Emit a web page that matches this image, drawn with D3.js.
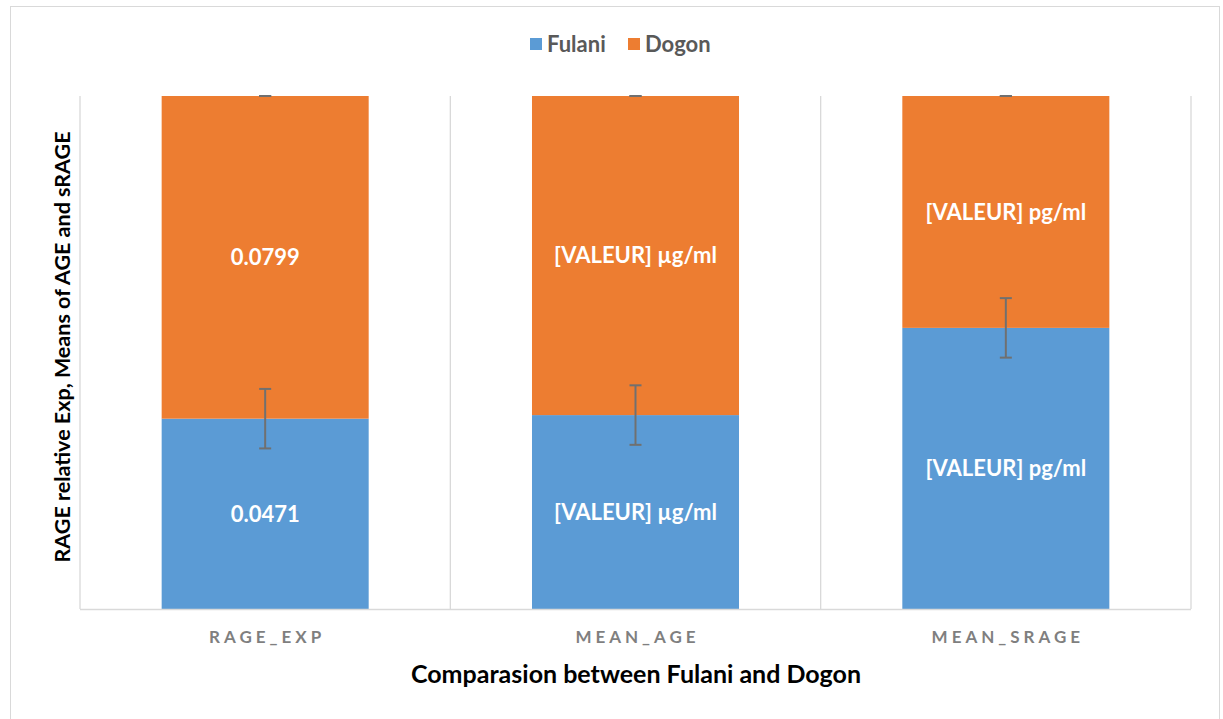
<!DOCTYPE html>
<meta charset="utf-8">
<style>
body { margin: 0; background: #fff; }
text { font-family: Lato, "Open Sans", sans-serif; }
</style>
<svg width="1223" height="719"></svg>
<script src="https://d3js.org/d3.v7.min.js"></script>
<script>

// categories and shares (percent of the stacked 100% bar)
var categories = ["RAGE_EXP", "MEAN_AGE", "MEAN_SRAGE"];
var fulaniPct = [37.1, 37.8, 54.8];
var dogonPct = [62.9, 62.2, 45.2];
var fulaniLabels = ["0.0471", "[VALEUR] \u00b5g/ml", "[VALEUR] pg/ml"];
var dogonLabels = ["0.0799", "[VALEUR] \u00b5g/ml", "[VALEUR] pg/ml"];
var fulaniErr = [5.8, 5.8, 5.8];
var dogonErr = [0, 0, 0];
var seriesNames = ["Fulani", "Dogon"];
var colors = ["#5B9BD5", "#ED7D31"];

var svg = d3.select("svg");

// chart frame
svg.append("rect")
    .attr("x", 10.5).attr("y", 6.5)
    .attr("width", 1209).attr("height", 730)
    .attr("fill", "none").attr("stroke", "#d9d9d9");

var plotLeft = 80, plotRight = 1191, plotTop = 96, plotBottom = 609;

var x = d3.scaleBand()
    .domain(categories)
    .range([plotLeft, plotRight])
    .paddingInner(0.441)
    .paddingOuter(0.2205);

var y = d3.scaleLinear().domain([0, 100]).range([plotBottom, plotTop]);

var step = x.step();

// vertical gridlines between categories
svg.append("g")
  .selectAll("line")
  .data(d3.range(categories.length + 1))
  .enter().append("line")
    .attr("x1", function(i) { return plotLeft + i * step; })
    .attr("x2", function(i) { return plotLeft + i * step; })
    .attr("y1", plotTop).attr("y2", plotBottom)
    .attr("stroke", "#d9d9d9").attr("stroke-width", 1.3);

var rows = categories.map(function(c, i) {
  return { cat: c, Fulani: fulaniPct[i], Dogon: dogonPct[i] };
});
var stack = d3.stack().keys(seriesNames)(rows);

var layers = svg.append("g")
  .selectAll("g")
  .data(stack)
  .enter().append("g")
    .attr("fill", function(d, k) { return colors[k]; });

layers.selectAll("rect")
  .data(function(d) { return d; })
  .enter().append("rect")
    .attr("x", function(d) { return x(d.data.cat); })
    .attr("width", x.bandwidth())
    .attr("y", function(d) { return y(d[1]); })
    .attr("height", function(d) { return y(d[0]) - y(d[1]); });

// x axis line
svg.append("line")
    .attr("x1", plotLeft).attr("x2", plotRight)
    .attr("y1", plotBottom + 0.5).attr("y2", plotBottom + 0.5)
    .attr("stroke", "#d9d9d9").attr("stroke-width", 1.5);

// data labels
stack.forEach(function(layer, k) {
  var labels = k === 0 ? fulaniLabels : dogonLabels;
  svg.append("g").selectAll("text")
    .data(layer)
    .enter().append("text")
      .attr("x", function(d) { return x(d.data.cat) + x.bandwidth() / 2; })
      .attr("y", function(d) { return (y(d[0]) + y(d[1])) / 2; })
      .attr("dy", "0.35em")
      .attr("text-anchor", "middle")
      .attr("fill", "#fff")
      .attr("font-size", "22px")
      .attr("font-weight", "bold")
      .text(function(d, i) { return labels[i]; });
});

// error bars
function errorBars(layer, errs) {
  var g = svg.append("g").attr("stroke", "#707070").attr("stroke-width", 2);
  layer.forEach(function(d, i) {
    var cx = x(d.data.cat) + x.bandwidth() / 2;
    var y0 = y(d[1] + errs[i]), y1 = y(d[1] - errs[i]);
    g.append("line").attr("x1", cx).attr("x2", cx).attr("y1", y0).attr("y2", y1);
    g.append("line").attr("x1", cx - 6).attr("x2", cx + 6).attr("y1", y0).attr("y2", y0);
    g.append("line").attr("x1", cx - 6).attr("x2", cx + 6).attr("y1", y1).attr("y2", y1);
  });
}
errorBars(stack[0], fulaniErr);
errorBars(stack[1], dogonErr);

// category tick labels
svg.append("g").selectAll("text")
  .data(categories)
  .enter().append("text")
    .attr("x", function(d) { return x(d) + x.bandwidth() / 2 + 2; })
    .attr("y", 637)
    .attr("dy", "0.35em")
    .attr("text-anchor", "middle")
    .attr("fill", "#7f7f7f")
    .attr("font-size", "17px")
    .attr("font-weight", "bold")
    .attr("letter-spacing", "4px")
    .text(function(d) { return d; });

// axis titles
svg.append("text")
    .attr("x", 636).attr("y", 674)
    .attr("dy", "0.35em")
    .attr("text-anchor", "middle")
    .attr("fill", "#000")
    .attr("font-size", "25px")
    .attr("font-weight", "bold")
    .text("Comparasion between Fulani and Dogon");

svg.append("text")
    .attr("transform", "translate(62,347) rotate(-90)")
    .attr("dy", "0.35em")
    .attr("text-anchor", "middle")
    .attr("fill", "#000")
    .attr("font-size", "21.5px")
    .attr("font-weight", "bold")
    .text("RAGE relative Exp, Means of AGE and sRAGE");

// legend
var legendX = [530, 628];
var legend = svg.append("g").selectAll("g")
  .data(seriesNames)
  .enter().append("g")
    .attr("transform", function(d, i) { return "translate(" + legendX[i] + ",38)"; });
legend.append("rect")
    .attr("width", 12).attr("height", 12)
    .attr("fill", function(d, i) { return colors[i]; });
legend.append("text")
    .attr("x", 17).attr("y", 6)
    .attr("dy", "0.35em")
    .attr("fill", "#595959")
    .attr("font-size", "22px")
    .attr("font-weight", "bold")
    .text(function(d) { return d; });

</script>
